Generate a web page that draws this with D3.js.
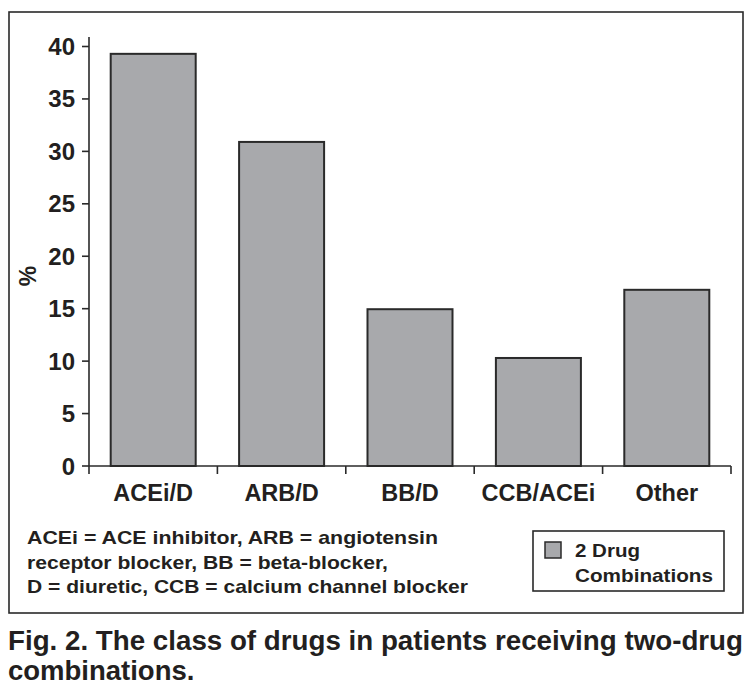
<!DOCTYPE html>
<html>
<head>
<meta charset="utf-8">
<script src="https://cdn.jsdelivr.net/npm/d3@7"></script>
<style>
  html, body { margin: 0; padding: 0; background: #fff; }
  svg { display: block; }
  text { font-family: "Liberation Sans", Arial, Helvetica, sans-serif; fill: #231f20; font-weight: bold; }
</style>
</head>
<body>
<div id="chart"></div>
<script>
const categories = ["ACEi/D", "ARB/D", "BB/D", "CCB/ACEi", "Other"];
const values = [39.3, 30.9, 14.95, 10.3, 16.8];
const yTicks = [0, 5, 10, 15, 20, 25, 30, 35, 40];
const seriesName = ["2 Drug", "Combinations"];
const footnote = [
  "ACEi = ACE inhibitor, ARB = angiotensin",
  "receptor blocker, BB = beta-blocker,",
  "D = diuretic, CCB = calcium channel blocker"
];
const caption = [
  "Fig. 2. The class of drugs in patients receiving two-drug",
  "combinations."
];

const W = 752, H = 692;
const ink = "#2a2a2a";
const barFill = "#a8a9ac";

const svg = d3.select("#chart").append("svg")
  .attr("width", W).attr("height", H);

svg.append("rect").attr("width", W).attr("height", H).attr("fill", "#fff");

// outer frame
svg.append("rect")
  .attr("x", 9).attr("y", 12).attr("width", 734).attr("height", 601)
  .attr("fill", "none").attr("stroke", ink).attr("stroke-width", 1.6);

const x = d3.scaleBand().domain(categories).range([89, 731])
  .paddingInner(0.338).paddingOuter(0.169);
const y = d3.scaleLinear().domain([0, 40]).range([466, 46.5]);

// bars
svg.append("g").selectAll("rect").data(values).join("rect")
  .attr("x", (d, i) => x(categories[i]))
  .attr("y", d => y(d))
  .attr("width", x.bandwidth())
  .attr("height", d => y(0) - y(d))
  .attr("fill", barFill)
  .attr("stroke", ink).attr("stroke-width", 2);

// y axis
const yAxis = svg.append("g");
yAxis.append("line")
  .attr("x1", 89).attr("x2", 89).attr("y1", 37).attr("y2", y(0))
  .attr("stroke", ink).attr("stroke-width", 1.6);
yAxis.selectAll("line.tick").data(yTicks).join("line")
  .attr("class", "tick")
  .attr("x1", 82).attr("x2", 89)
  .attr("y1", d => y(d)).attr("y2", d => y(d))
  .attr("stroke", ink).attr("stroke-width", 1.6);
yAxis.selectAll("text").data(yTicks).join("text")
  .attr("x", 75).attr("y", d => y(d) + 8.5)
  .attr("text-anchor", "end")
  .attr("font-size", 24)
  .text(d => d);

// x axis
const xAxis = svg.append("g");
xAxis.append("line")
  .attr("x1", 89).attr("x2", 731).attr("y1", y(0)).attr("y2", y(0))
  .attr("stroke", ink).attr("stroke-width", 1.6);
const bounds = [89].concat(categories.map(c => x(c) - x.step() * x.paddingInner() / 2 + x.step()));
xAxis.selectAll("line.tick").data(bounds).join("line")
  .attr("class", "tick")
  .attr("x1", d => d).attr("x2", d => d)
  .attr("y1", y(0)).attr("y2", y(0) + 8)
  .attr("stroke", ink).attr("stroke-width", 1.6);
xAxis.selectAll("text").data(categories).join("text")
  .attr("x", d => x(d) + x.bandwidth() / 2)
  .attr("y", 501)
  .attr("text-anchor", "middle")
  .attr("font-size", 23.5)
  .text(d => d);

// y label
svg.append("text")
  .attr("transform", "translate(36,276) rotate(-90)")
  .attr("text-anchor", "middle")
  .attr("font-size", 23)
  .text("%");

// footnote
const fnWidths = [411, 361, 441];
svg.append("g").selectAll("text").data(footnote).join("text")
  .attr("x", 27)
  .attr("y", (d, i) => 544 + i * 24.5)
  .attr("font-size", 19)
  .attr("textLength", (d, i) => fnWidths[i])
  .attr("lengthAdjust", "spacingAndGlyphs")
  .text(d => d);

// legend
const lg = svg.append("g");
lg.append("rect").attr("x", 533).attr("y", 531).attr("width", 191).attr("height", 60)
  .attr("fill", "#fff").attr("stroke", ink).attr("stroke-width", 1.6);
lg.append("rect").attr("x", 545).attr("y", 542).attr("width", 16).attr("height", 16)
  .attr("fill", barFill).attr("stroke", ink).attr("stroke-width", 1.5);
const lgWidths = [65, 138];
lg.selectAll("text").data(seriesName).join("text")
  .attr("x", 575)
  .attr("y", (d, i) => 557 + i * 25)
  .attr("font-size", 19)
  .attr("textLength", (d, i) => lgWidths[i])
  .attr("lengthAdjust", "spacingAndGlyphs")
  .text(d => d);

// caption
svg.append("text").attr("x", 8).attr("y", 650)
  .attr("font-size", 27.5).attr("textLength", 735).attr("lengthAdjust", "spacingAndGlyphs")
  .text(caption[0]);
svg.append("text").attr("x", 8).attr("y", 680)
  .attr("font-size", 27.5)
  .text(caption[1]);
</script>
</body>
</html>
